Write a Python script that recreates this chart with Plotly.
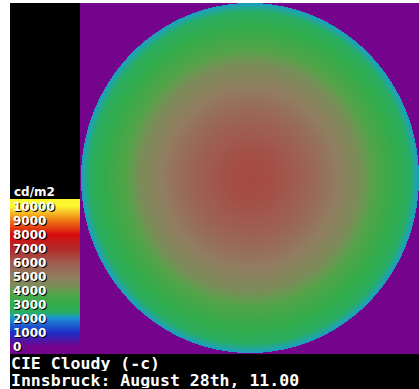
import numpy as np
import plotly.graph_objects as go

# ---- data ----
legend_values = [10000, 9000, 8000, 7000, 6000, 5000, 4000, 3000, 2000, 1000, 0]
legend_labels = ["10000", "9000", "8000", "7000", "6000", "5000", "4000", "3000", "2000", "1000", "0"]
unit_label = "cd/m2"
palette_values = [0, 1000, 2000, 2200, 2450, 3000, 3800, 4300, 5000, 6000, 7000, 8000, 9000, 10000]
palette_colors = ["rgb(116,4,140)", "rgb(30,45,200)", "rgb(30,140,210)", "rgb(30,165,170)",
                  "rgb(40,172,95)", "rgb(50,172,75)", "rgb(82,164,72)", "rgb(122,140,88)",
                  "rgb(145,125,96)", "rgb(160,90,78)", "rgb(178,40,40)", "rgb(215,12,12)",
                  "rgb(240,120,20)", "rgb(252,245,50)"]
zenith_luminance = 6300      # cd/m2 at the zenith (centre of the fisheye)
title_lines = ["CIE Cloudy (-c)", "Innsbruck: August 28th, 11.00"]

W, H = 419, 389
vmax = 10000
colorscale = [[v / vmax, c] for v, c in zip(palette_values, palette_colors)]

fig = go.Figure()

# ---- sky image (angular fisheye of a CIE overcast sky) ----
x_edges = np.arange(80, 420)
y_edges = np.arange(3, 355)
xc = (x_edges[:-1] + x_edges[1:]) / 2
yc = (y_edges[:-1] + y_edges[1:]) / 2
cx, cy, rx, ry = 250.0, 178.0, 169.0, 175.0
XX, YY = np.meshgrid(xc, yc)
rr = np.sqrt(((XX - cx) / rx) ** 2 + ((YY - cy) / ry) ** 2)
theta = rr * np.pi / 2
sky = zenith_luminance * (1 + 2 * np.cos(np.clip(theta, 0, np.pi / 2))) / 3
sky = np.where(rr <= 1.0, sky, 0.0)
fig.add_trace(go.Heatmap(x=x_edges, y=y_edges, z=sky, colorscale=colorscale,
                         zmin=0, zmax=vmax, showscale=False, hoverinfo="skip"))

# ---- legend strip ----
band = 14.0
top_label_y = 206.5
leg_edges = np.arange(199, 355)
leg_c = (leg_edges[:-1] + leg_edges[1:]) / 2
leg_vals = np.interp(leg_c, [top_label_y + band * i for i in range(len(legend_values))], legend_values)
fig.add_trace(go.Heatmap(x=[10, 80], y=leg_edges, z=leg_vals.reshape(-1, 1), colorscale=colorscale,
                         zmin=0, zmax=vmax, showscale=False, hoverinfo="skip"))

shapes = [
    dict(type="rect", x0=10, x1=80, y0=3, y1=199, fillcolor="black", line_width=0, layer="below"),
    dict(type="rect", x0=10, x1=419, y0=354, y1=389, fillcolor="black", line_width=0, layer="below"),
]

annotations = []
shadow = "1px 1px 0px black"
annotations.append(dict(x=12, y=192, text=unit_label, showarrow=False, xanchor="left", yanchor="middle",
                        font=dict(family="DejaVu Sans", size=12, color="white", weight="bold", shadow=shadow)))
for i, lab in enumerate(legend_labels):
    annotations.append(dict(x=11, y=top_label_y + band * i, text=lab, showarrow=False,
                            xanchor="left", yanchor="middle",
                            font=dict(family="DejaVu Sans", size=12, color="white", weight="bold",
                                      shadow=shadow)))
for j, line in enumerate(title_lines):
    annotations.append(dict(x=10, y=363 + 17 * j, text=line, showarrow=False, xanchor="left",
                            yanchor="middle", height=15, borderpad=0,
                            font=dict(family="DejaVu Sans Mono", size=16.5, color="white", weight="bold")))

fig.update_layout(
    width=W, height=H, margin=dict(l=0, r=0, t=0, b=0),
    paper_bgcolor="white", plot_bgcolor="white",
    xaxis=dict(range=[0, W], visible=False, fixedrange=True),
    yaxis=dict(range=[H, 0], visible=False, fixedrange=True),
    shapes=shapes, annotations=annotations, showlegend=False,
)
fig.write_html("out.html", config={"displayModeBar": False},
               post_script="document.body.style.margin='0';document.body.style.overflow='hidden';")
